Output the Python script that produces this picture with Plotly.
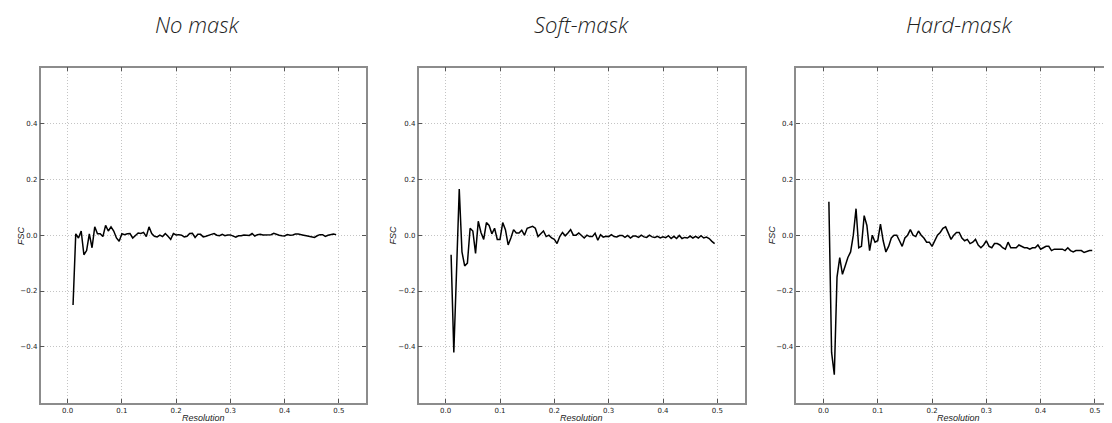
import plotly.graph_objects as go

# FSC curves sampled every 0.005 in resolution starting at 0.01
no_mask = [
    -0.250, 0.005, -0.010, 0.015, -0.070, -0.055, 0.005, -0.045, 0.030, 0.005,
    0.005, -0.005, 0.035, 0.015, 0.030, 0.015, -0.010, -0.022, 0.005, 0.002,
    0.005, 0.006, -0.010, -0.002, 0.008, 0.006, 0.010, -0.005, 0.030, 0.006,
    -0.004, -0.006, 0.000, -0.005, 0.006, -0.004, -0.015, 0.006, 0.001, 0.002,
    0.000, -0.006, -0.004, 0.006, 0.007, -0.008, 0.003, 0.003, -0.006, -0.004,
    0.001, 0.003, 0.006, 0.000, -0.002, 0.003, -0.002, 0.001, 0.001, -0.003,
    -0.007, -0.002, -0.002, 0.001, 0.000, -0.001, 0.006, -0.003, 0.002, 0.003,
    0.001, 0.001, 0.000, 0.002, 0.007, 0.002, 0.000, -0.002, -0.003, 0.002,
    0.000, 0.001, 0.004, 0.004, 0.003, 0.000, -0.002, -0.004, -0.006, -0.008,
    -0.002, 0.002, 0.002, -0.004, 0.000, 0.003, 0.004, 0.002,
]
soft_mask = [
    -0.070, -0.420, -0.130, 0.165, -0.060, -0.110, -0.100, 0.025, 0.015, -0.065,
    0.050, 0.010, -0.015, 0.045, 0.035, 0.005, 0.025, -0.015, -0.015, 0.045,
    0.020, -0.035, -0.010, 0.020, 0.008, 0.008, 0.018, 0.000, 0.025, 0.028,
    0.032, 0.025, -0.005, 0.005, 0.015, -0.005, 0.000, -0.010, -0.015, -0.030,
    -0.005, 0.010, -0.002, 0.008, 0.020, 0.000, 0.000, 0.008, 0.000, -0.010,
    0.000, -0.005, -0.005, 0.007, -0.018, 0.002, -0.007, -0.004, -0.005, 0.002,
    -0.005, -0.006, -0.001, -0.001, -0.008, -0.001, -0.010, -0.003, -0.003, -0.008,
    0.000, -0.006, -0.008, 0.000, -0.006, -0.008, -0.004, -0.010, -0.006, -0.009,
    -0.002, -0.012, -0.004, -0.012, -0.001, -0.012, -0.008, -0.010, -0.003, -0.010,
    -0.004, -0.010, -0.002, -0.010, -0.007, -0.012, -0.022, -0.030,
]
hard_mask = [
    0.120, -0.420, -0.500, -0.150, -0.080, -0.140, -0.110, -0.080, -0.060, 0.000,
    0.095, -0.045, -0.040, 0.070, 0.035, -0.055, 0.000, -0.025, -0.020, 0.040,
    -0.020, -0.060, -0.040, -0.010, 0.000, 0.000, -0.020, -0.040, -0.010, 0.000,
    0.020, 0.000, -0.005, 0.015, 0.000, -0.010, -0.025, -0.025, -0.040, -0.020,
    0.000, 0.010, 0.025, 0.030, 0.005, -0.015, 0.000, 0.010, 0.010, -0.010,
    -0.020, -0.015, -0.030, -0.025, -0.015, -0.035, -0.045, -0.035, -0.020, -0.040,
    -0.045, -0.030, -0.030, -0.035, -0.045, -0.050, -0.025, -0.045, -0.045, -0.045,
    -0.035, -0.040, -0.045, -0.045, -0.050, -0.045, -0.045, -0.035, -0.050, -0.045,
    -0.040, -0.040, -0.055, -0.050, -0.050, -0.048, -0.050, -0.055, -0.045, -0.055,
    -0.060, -0.055, -0.055, -0.055, -0.062, -0.058, -0.055, -0.055,
]
series = [no_mask, soft_mask, hard_mask]
titles = ["No mask", "Soft-mask", "Hard-mask"]
x_ticks = [0.0, 0.1, 0.2, 0.3, 0.4, 0.5]
y_ticks = [-0.4, -0.2, 0.0, 0.2, 0.4]

# the page adds an 8px body margin; work in window pixels and shift
OFF = 8
W, H = 1112 - OFF, 423 - OFF
panels = [(40.5, 366.0), (418.5, 744.5), (796.3, 1112.0)]
x_ranges = [[-0.05, 0.55], [-0.05, 0.55], [-0.05, 0.5314]]
top_px, bot_px = 67.7, 402.7
title_cx = [197, 581, 959]
fsc_cx = [21.7, 393.3, 772]


def px(v):
    return (v - OFF) / W


def py(v):
    return 1 - (v - OFF) / H


fig = go.Figure()
for i, ys in enumerate(series):
    xs = [0.01 + 0.005 * k for k in range(len(ys))]
    sfx = "" if i == 0 else str(i + 1)
    fig.add_trace(go.Scatter(
        x=xs, y=ys, mode="lines",
        line=dict(color="black", width=1.5),
        xaxis="x" + sfx, yaxis="y" + sfx, showlegend=False,
        hoverinfo="skip",
    ))
    l, r = panels[i]
    common = dict(
        showgrid=True, gridcolor="#c4c4c4", griddash="1px,2px", gridwidth=1,
        zeroline=False, showline=True, linecolor="#8c8c8c", linewidth=1.5,
        ticks="inside", ticklen=4, tickcolor="#555", tickwidth=1,
        tickfont=dict(family="DejaVu Sans", size=7, color="#222"),
    )
    fig.layout["xaxis" + sfx] = dict(
        domain=[max(0, px(l)), min(1, px(r))], range=x_ranges[i],
        tickvals=x_ticks, tickformat=".1f",
        anchor="y" + sfx, mirror="ticks", **common,
    )
    fig.layout["yaxis" + sfx] = dict(
        domain=[py(bot_px), py(top_px)], range=[-0.6, 0.6],
        tickvals=y_ticks, tickformat=".1f",
        anchor="x" + sfx, mirror=("ticks" if i < 2 else False), **common,
    )
    fig.add_annotation(
        text=titles[i], xref="paper", yref="paper",
        x=px(title_cx[i]), y=py(23.5), xanchor="center", yanchor="middle",
        showarrow=False,
        font=dict(family="Open Sans", size=22, color="#222", style="italic", weight=300),
    )
    fig.add_annotation(
        text="Resolution", xref="paper", yref="paper",
        x=px((l + (r if i < 2 else 1121.5)) / 2), y=py(418),
        xanchor="center", yanchor="middle", showarrow=False,
        font=dict(family="Liberation Sans", size=9, color="#222", style="italic"),
    )
    fig.add_annotation(
        text="FSC", xref="paper", yref="paper",
        x=px(fsc_cx[i]), y=py(235.3), textangle=-90,
        xanchor="center", yanchor="middle", showarrow=False,
        font=dict(family="Liberation Sans", size=9, color="#222", style="italic"),
    )

fig.update_layout(
    width=W, height=H,
    margin=dict(l=0, r=0, t=0, b=0, autoexpand=False),
    paper_bgcolor="white", plot_bgcolor="white",
)
fig.write_html("out.html")
